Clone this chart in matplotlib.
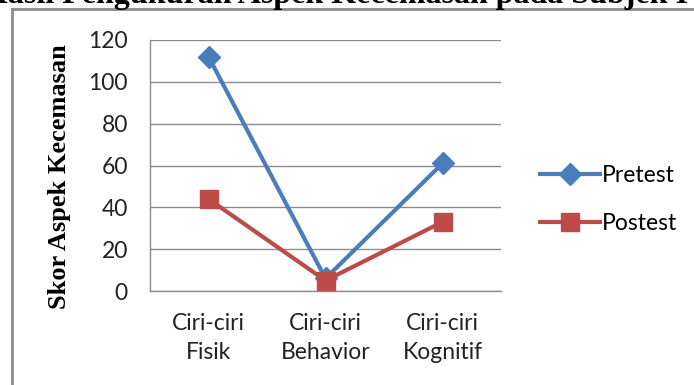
import matplotlib
matplotlib.use("Agg")
import matplotlib.pyplot as plt
from matplotlib.lines import Line2D

categories = ["Ciri-ciri\nFisik", "Ciri-ciri\nBehavior", "Ciri-ciri\nKognitif"]
pretest = [112, 6, 61]
postest = [44, 5, 33]
yticks = [0, 20, 40, 60, 80, 100, 120]

W, H = 694, 385
fig = plt.figure(figsize=(W / 100, H / 100), dpi=100)

# plot area in pixel coordinates
x0, x1 = 150, 501
y_top, y_bot = 40, 291
ax = fig.add_axes([x0 / W, 1 - y_bot / H, (x1 - x0) / W, (y_bot - y_top) / H])

xs = range(len(categories))
ax.plot(xs, pretest, color="#4A7EBB", lw=3, marker="D", ms=11, label="Pretest", zorder=3)
ax.plot(xs, postest, color="#BE4B48", lw=3, marker="s", ms=13, label="Postest", zorder=4)

ax.set_xlim(-0.5, len(categories) - 0.5)
ax.set_ylim(0, 120)
ax.set_yticks(yticks)
ax.set_xticks(list(xs))
ax.set_xticklabels(categories, fontfamily="Lato", fontsize=16.5, color="#222222", linespacing=1.45)
ax.set_yticklabels([str(t) for t in yticks], fontfamily="Lato", fontsize=16.5, color="#222222")
ax.tick_params(length=0)
ax.tick_params(axis="y", pad=16)
ax.tick_params(axis="x", pad=16)
ax.grid(axis="y", color="#8C8C8C", lw=1)
ax.set_axisbelow(True)
for s in ["top", "right"]:
    ax.spines[s].set_visible(False)
for s in ["left", "bottom"]:
    ax.spines[s].set_color("#8C8C8C")
    ax.spines[s].set_linewidth(1)

fig.text(60 / W, 1 - 177 / H, "Skor Aspek Kecemasan", rotation=90, ha="center", va="center",
         fontfamily="Liberation Serif", fontweight="bold", fontsize=19)

leg = fig.legend(handles=ax.get_lines(), loc="center left", bbox_to_anchor=(540 / W, 1 - 199.5 / H),
                 frameon=False, prop={"family": "Lato", "size": 16.5}, handlelength=2.6,
                 handletextpad=0.1, labelspacing=1.17, borderaxespad=0, borderpad=0)

# chart frame (top and left edges)
fig.add_artist(Line2D([12 / W, 1], [1 - 9 / H, 1 - 9 / H], color="#8C8C8C", lw=2, transform=fig.transFigure))
fig.add_artist(Line2D([12 / W, 12 / W], [1 - 9 / H, 0], color="#8C8C8C", lw=2, transform=fig.transFigure))

fig.text(688 / W, 1 - 3 / H, "Hasil Pengukuran Aspek Kecemasan pada Subjek I", ha="right", va="baseline",
         fontfamily="Liberation Serif", fontweight="bold", fontsize=23)

fig.savefig("out.png", dpi=100)
